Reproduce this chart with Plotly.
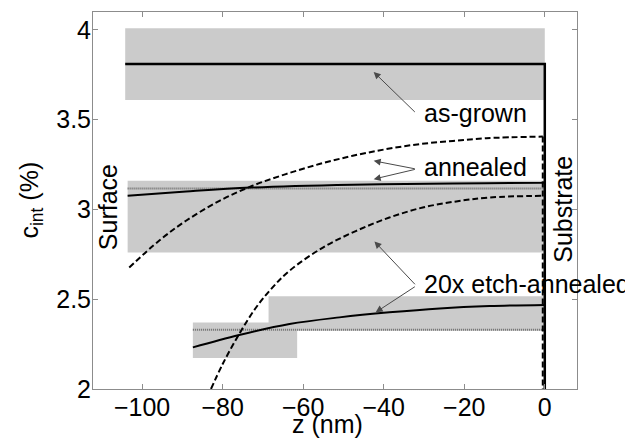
import plotly.graph_objects as go

# ---------------- data ----------------
x_ticks = [-100, -80, -60, -40, -20, 0]
y_ticks = [2, 2.5, 3, 3.5, 4]
y_tick_text = ["2", "2.5", "3", "3.5", "4"]

# shaded uncertainty boxes (z range, c range)
asgrown_box_z = [-104.2, 0]
asgrown_box_c = [3.61, 4.01]
annealed_box_z = [-103.6, 0]
annealed_box_c = [2.76, 3.16]
etch_box1_z = [-87.4, -61.5]
etch_box1_c = [2.173, 2.371]
etch_box2_z = [-68.6, 0]
etch_box2_c = [2.325, 2.516]

# as-grown level and substrate boundary
asgrown_z = [-104.2, 0, 0]
asgrown_c = [3.81, 3.81, 2.0]

# annealed: solid fit and dotted mean
annealed_z = [-103.6, -89.1, -73.0, -47.7, -22.8, -0.8, 0]
annealed_c = [3.076, 3.100, 3.122, 3.138, 3.145, 3.149, 3.150]
annealed_mean_z = [-103.6, 0]
annealed_mean_c = [3.117, 3.117]

# etch-annealed: solid fit and dotted mean
etch_z = [-87.4, -75.9, -63.4, -51.0, -38.6, -26.1, -13.7, 0]
etch_c = [2.232, 2.301, 2.362, 2.399, 2.427, 2.449, 2.462, 2.468]
etch_mean_z = [-87.4, 0]
etch_mean_c = [2.33, 2.33]

# dashed model profiles
dash_upper_z = [-103.2, -95.8, -89.1, -80.8, -72.6, -64.3, -56.0, -47.7,
                -39.4, -31.1, -22.8, -14.5, -0.5]
dash_upper_c = [2.677, 2.826, 2.937, 3.048, 3.132, 3.197, 3.253, 3.299,
                3.336, 3.364, 3.382, 3.397, 3.406]
dash_lower_z = [-82.9, -80.0, -75.9, -71.7, -67.6, -63.4, -55.1, -46.8,
                -38.6, -30.3, -22.0, -13.7, -0.5]
dash_lower_c = [2.0, 2.139, 2.306, 2.454, 2.566, 2.659, 2.788, 2.881,
                2.955, 3.011, 3.045, 3.067, 3.076]
dash_edge_z = [-0.5, -0.5]
dash_edge_c = [3.406, 2.0]

# annotation labels: text, anchor, arrow heads, arrow tail
labels = ["as-grown", "annealed", "20x etch-annealed"]
label_z = [-30.4, -30.4, -30.4]
label_c = [3.538, 3.238, 2.586]
arrow_heads = [[(-42.5, 3.766)], [(-42.5, 3.271), (-42.5, 3.169)],
               [(-42.3, 2.822), (-42.0, 2.427)]]
arrow_tails = [(-31.9, 3.535), (-31.9, 3.225), (-31.9, 2.575)]

FONT = "Liberation Sans, Arial, sans-serif"
FS = 25

fig = go.Figure()

box_fill = "#cbcbcb"
shapes = []
for bz, bc in [(asgrown_box_z, asgrown_box_c), (annealed_box_z, annealed_box_c),
               (etch_box1_z, etch_box1_c), (etch_box2_z, etch_box2_c)]:
    shapes.append(dict(type="rect", xref="x", yref="y", x0=bz[0], x1=bz[1],
                       y0=bc[0], y1=bc[1], fillcolor=box_fill,
                       line=dict(width=0), layer="below"))

dotted = dict(color="#6a6a6a", width=2, dash="1px,1px")
solid = dict(color="black", width=2)
dashed = dict(color="black", width=2, dash="6px,3px")

fig.add_trace(go.Scatter(x=annealed_mean_z, y=annealed_mean_c, mode="lines", line=dotted))
fig.add_trace(go.Scatter(x=etch_mean_z, y=etch_mean_c, mode="lines", line=dotted))
fig.add_trace(go.Scatter(x=dash_upper_z, y=dash_upper_c, mode="lines", line=dashed, line_shape="spline"))
fig.add_trace(go.Scatter(x=dash_lower_z, y=dash_lower_c, mode="lines", line=dashed, line_shape="spline"))
fig.add_trace(go.Scatter(x=dash_edge_z, y=dash_edge_c, mode="lines", line=dashed))
fig.add_trace(go.Scatter(x=annealed_z, y=annealed_c, mode="lines", line=solid, line_shape="spline"))
fig.add_trace(go.Scatter(x=etch_z, y=etch_c, mode="lines", line=solid, line_shape="spline"))
fig.add_trace(go.Scatter(x=asgrown_z, y=asgrown_c, mode="lines",
                         line=dict(color="black", width=2.5)))

annotations = []
for txt, tz, tc, heads, tail in zip(labels, label_z, label_c, arrow_heads, arrow_tails):
    annotations.append(dict(x=tz, y=tc, xref="x", yref="y", text=txt, showarrow=False,
                            xanchor="left", yanchor="middle",
                            font=dict(family=FONT, size=FS, color="black")))
    for hz, hc in heads:
        annotations.append(dict(x=hz, y=hc, xref="x", yref="y", ax=tail[0], ay=tail[1],
                                axref="x", ayref="y", text="", showarrow=True,
                                arrowhead=2, arrowsize=1.4, arrowwidth=1,
                                arrowcolor="#4a4a4a"))

annotations.append(dict(x=-108.6, y=3.01, xref="x", yref="y", text="Surface",
                        textangle=-90, showarrow=False, xanchor="center", yanchor="middle",
                        font=dict(family=FONT, size=FS, color="black")))
annotations.append(dict(x=4.6, y=3.0, xref="x", yref="y", text="Substrate",
                        textangle=-90, showarrow=False, xanchor="center", yanchor="middle",
                        font=dict(family=FONT, size=FS, color="black")))
annotations.append(dict(x=-0.13, y=0.5, xref="paper", yref="paper",
                        text="c<sub>int</sub> (%)", textangle=-90, showarrow=False,
                        xanchor="center", yanchor="middle",
                        font=dict(family=FONT, size=FS, color="black")))
annotations.append(dict(x=-54, y=-0.092, xref="x", yref="paper", text="z (nm)",
                        showarrow=False, xanchor="center", yanchor="middle",
                        font=dict(family=FONT, size=FS, color="black")))

axis_common = dict(showline=True, mirror="ticks", linecolor="#8c8c8c", linewidth=1,
                   ticks="inside", ticklen=5, tickcolor="#8c8c8c", showgrid=False,
                   zeroline=False, tickfont=dict(family=FONT, size=FS, color="black"),
                   ticklabelstandoff=-4)

# the page body adds an 8px offset, so the figure is sized/margined to compensate
fig.update_layout(
    width=625, height=435,
    margin=dict(l=85, r=56, t=4, b=54),
    paper_bgcolor="white", plot_bgcolor="white",
    showlegend=False,
    shapes=shapes,
    annotations=annotations,
    xaxis=dict(range=[-112.2, 8], tickvals=x_ticks, **axis_common),
    yaxis=dict(range=[2, 4.1], tickvals=y_ticks, ticktext=y_tick_text, **axis_common),
)

fig.write_html("out.html")
